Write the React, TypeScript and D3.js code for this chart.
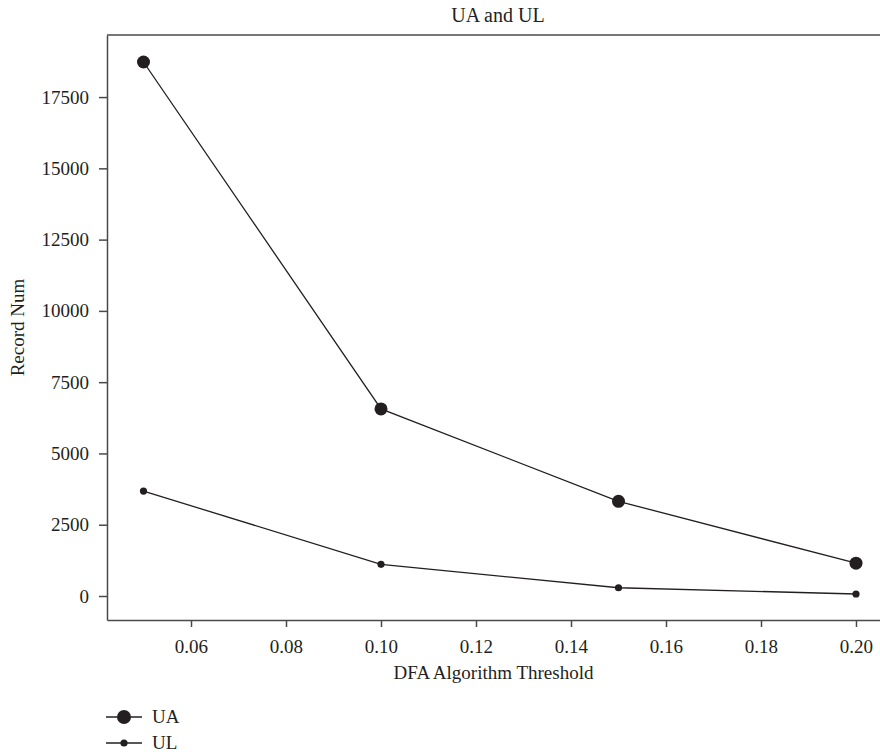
//this component renders the UA / UL record count line chart
import * as d3 from 'd3';
import React, { useEffect, useRef } from 'react';

const thresholds = [0.05, 0.1, 0.15, 0.2];
const uaValues = [18730, 6560, 3320, 1150];
const ulValues = [3680, 1110, 290, 70];
const xTicks = [0.06, 0.08, 0.1, 0.12, 0.14, 0.16, 0.18, 0.2];
const yTicks = [0, 2500, 5000, 7500, 10000, 12500, 15000, 17500];
const seriesNames = ['UA', 'UL'];

const App = () => {
  const svgRef = useRef<SVGSVGElement>(null);

  useEffect(() => {
    const width = 880;
    const height = 752;
    const margin = { top: 35, right: 0, bottom: 132, left: 107 };
    const ink = '#231f20';
    const axisColor = '#4a4a4a';
    const font = "'Liberation Serif', 'Times New Roman', serif";

    const svg = d3.select(svgRef.current);
    svg.selectAll('*').remove();
    svg
      .attr('width', width)
      .attr('height', height)
      .style('display', 'block')
      .style('position', 'absolute')
      .style('left', '0px')
      .style('top', '0px');

    //x scale: 0.02 ~ 95px, 0.05 sits at 143.5
    const x = d3
      .scaleLinear()
      .domain([0.042316, 0.205053])
      .range([margin.left, width - margin.right]);

    //y scale: 0 at 596, 17500 at 97
    const y = d3
      .scaleLinear()
      .domain([-842, 19677])
      .range([height - margin.bottom, margin.top]);

    const g = svg.append('g').attr('font-family', font);

    //y axis
    const yAxis = g
      .append('g')
      .attr('transform', `translate(${margin.left},0)`)
      .call(
        d3
          .axisLeft(y)
          .tickValues(yTicks)
          .tickFormat(d3.format('d'))
          .tickSize(8)
          .tickPadding(10)
          .tickSizeOuter(0)
      );

    //x axis
    const xAxis = g
      .append('g')
      .attr('transform', `translate(0,${height - margin.bottom})`)
      .call(
        d3
          .axisBottom(x)
          .tickValues(xTicks)
          .tickFormat(d3.format('.2f'))
          .tickSize(7)
          .tickPadding(9)
          .tickSizeOuter(0)
      );

    [yAxis, xAxis].forEach((ax) => {
      ax.attr('font-family', font).attr('font-size', 19);
      ax.selectAll('path, line').attr('stroke', axisColor).attr('stroke-width', 1.5);
      ax.selectAll('text').attr('fill', ink);
    });
    xAxis.selectAll('text').attr('dy', '0.9em');

    //top border of the plot
    g.append('line')
      .attr('x1', margin.left)
      .attr('x2', width)
      .attr('y1', margin.top)
      .attr('y2', margin.top)
      .attr('stroke', axisColor)
      .attr('stroke-width', 1.5);

    const line = d3
      .line<number>()
      .x((d, i) => x(thresholds[i]))
      .y((d) => y(d));

    const series = [
      { name: seriesNames[0], values: uaValues, r: 6.5 },
      { name: seriesNames[1], values: ulValues, r: 3.6 }
    ];

    series.forEach((s) => {
      g.append('path')
        .datum(s.values)
        .attr('d', line)
        .attr('fill', 'none')
        .attr('stroke', ink)
        .attr('stroke-width', 1.3);

      g.selectAll(null)
        .data(s.values)
        .enter()
        .append('circle')
        .attr('cx', (d, i) => x(thresholds[i]))
        .attr('cy', (d) => y(d))
        .attr('r', s.r)
        .attr('fill', ink);
    });

    //title
    g.append('text')
      .attr('x', 498)
      .attr('y', 22)
      .attr('text-anchor', 'middle')
      .attr('font-size', 20)
      .attr('fill', ink)
      .text('UA and UL');

    //axis labels
    g.append('text')
      .attr('transform', `translate(24,${(margin.top + height - margin.bottom) / 2}) rotate(-90)`)
      .attr('text-anchor', 'middle')
      .attr('font-size', 19)
      .attr('fill', ink)
      .text('Record Num');

    g.append('text')
      .attr('x', (margin.left + width) / 2)
      .attr('y', 679)
      .attr('text-anchor', 'middle')
      .attr('font-size', 19)
      .attr('fill', ink)
      .text('DFA Algorithm Threshold');

    //legend
    const legend = g
      .selectAll('.legend')
      .data(series)
      .enter()
      .append('g')
      .attr('class', 'legend')
      .attr('transform', (d, i) => `translate(106,${717 + i * 26})`);

    legend
      .append('line')
      .attr('x1', 0)
      .attr('x2', 36)
      .attr('stroke', ink)
      .attr('stroke-width', 1.3);

    legend
      .append('circle')
      .attr('cx', 18)
      .attr('r', (d) => (d.r > 5 ? 7 : 3.6))
      .attr('fill', ink);

    legend
      .append('text')
      .attr('x', 46)
      .attr('dy', '0.33em')
      .attr('font-size', 19)
      .attr('fill', ink)
      .text((d) => d.name);
  }, []);

  return <svg ref={svgRef}></svg>;
};

export default App;
